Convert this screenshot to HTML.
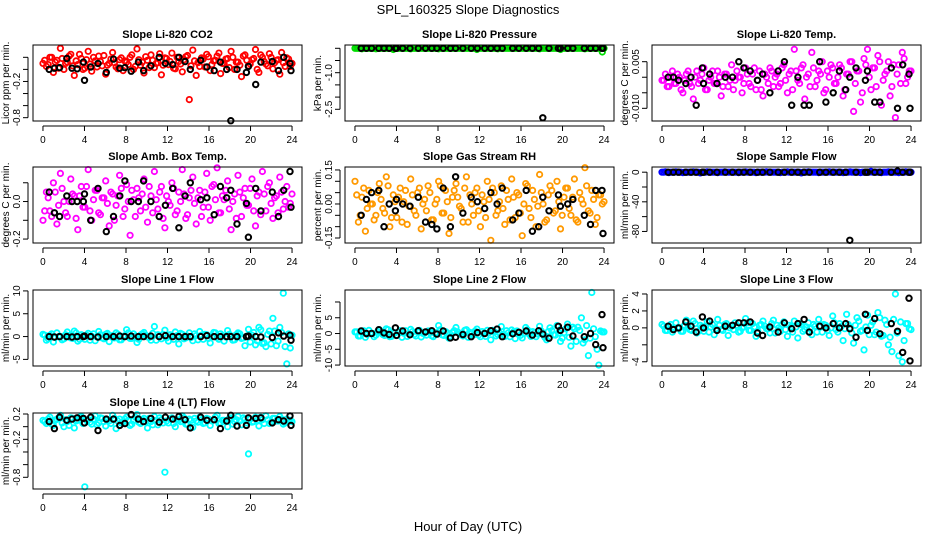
<!DOCTYPE html>
<html><head><meta charset="utf-8"><style>
html,body{margin:0;padding:0;background:#fff;}
svg{display:block;font-family:"Liberation Sans",sans-serif;}
</style></head><body>
<svg id="chart" width="936" height="540" viewBox="0 0 936 540">
<text x="468" y="14" text-anchor="middle" font-size="13">SPL_160325  Slope Diagnostics</text>
<text x="468" y="531" text-anchor="middle" font-size="13">Hour of Day (UTC)</text>
</svg>
<script>
const hoursK = [0.6,1.1,1.6,2.3,2.8,3.3,3.9,4.0,4.6,5.3,6.1,6.8,7.4,7.9,8.5,9.2,9.7,10.4,11.2,11.8,12.5,13.1,13.7,14.2,15.2,15.8,16.5,17.1,17.7,18.1,18.7,19.6,19.8,20.5,21.0,22.1,22.7,23.2,23.8,23.9];
const xTicks = [0,4,8,12,16,20,24];

const co2C = [0.1,0.05,0.2,-0.05,0.15,0.35,0.0,0.12,0.25,-0.1,0.08,0.18,0.02,0.3,-0.03,0.14,0.22,0.06,-0.08,0.1,0.28,0.04,0.16,-0.02,0.12,0.2,0.0,0.34,0.07,-0.06,0.15,0.24,0.03,0.11,-0.09,0.19,0.08,0.27,0.01,0.13,-0.04,0.21,-0.5,0.32,-0.1,0.05,0.17,0.25,-0.02,0.14,0.22,-0.07,0.1,0.18,0.3,0.0,0.12,-0.12,0.24,0.06,0.16,0.33,-0.05,0.2,0.09,0.26,0.01,0.15,-0.08,0.11,0.19,0.05];
const co2C2 = [0.15,0.08,0.2,0.12,0.02,0.18,0.1,0.22,0.06,0.14,0.25,0.0,0.16,0.09,0.2,0.04,0.13,0.23,0.07,0.17,0.11,0.01,0.19,0.14,0.08,0.24,0.05,0.16,0.12,0.21,0.03,0.15,0.1,0.26,0.07,0.18,0.13,0.02,0.2,0.09,0.16,0.23,0.06,0.14,0.11,0.19,0.04,0.21,0.08,0.15,0.27,0.1,0.17,0.03,0.2,0.12,0.07,0.22,0.15,0.09,0.18,0.0,0.24,0.13,0.06,0.2,0.11,0.16,0.28,0.05,0.17,0.1];
const co2K = [0.0,0.02,0.03,0.18,0.02,0.01,0.12,-0.18,0.04,0.1,-0.05,0.17,0.02,0.03,-0.03,0.12,-0.02,0.06,0.2,0.1,0.08,0.2,0.13,0.0,0.15,0.04,-0.02,0.12,0.0,-0.85,0.0,-0.05,0.05,-0.25,0.12,0.13,-0.02,0.2,0.1,-0.02];
const presC = [0,0,-0.02,0,0,0,-0.02,0,0,0,0,-0.05,0,0,0,0,-0.02,0,0,0,0,0,0,0,-0.02,0,0,0,0,0,0,0,0,0,0,-0.05,0,0,0,0,0,-0.02,0,0,0,0,0,0,0,0,0,0,0,-0.02,0,0,0,0,0,-0.05,0,0,0,0,0,0,-0.02,0,0,0,0,-0.15];
const presC2 = [0,0,0,0,0,0,0,0,0,0,0,0,0,0,0,0,0,0,0,0,0,0,0,0,0,0,0,0,0,0,0,0,0,0,0,0,0,0,0,0,0,0,0,0,0,0,0,0,0,0,0,0,0,0,0,0,0,0,0,0,0,0,0,0,0,0,0,0,0,0,0,0];
const presK = [0,0,0,0,0,0,0,0,0,0,0,0,0,0,0,0,0,0,0,0,0,0,0,0,0,0,0,0,0,-2.85,0,0,0,0,0,0,0,0,0,0];
const tempC = [-0.001,0.001,-0.003,0.002,-0.002,0.000,-0.005,0.001,-0.002,-0.007,0.002,-0.001,0.003,-0.004,0.000,-0.002,0.002,-0.006,0.001,-0.003,0.004,-0.001,0.000,-0.005,0.003,-0.002,0.001,-0.004,0.002,-0.006,0.000,0.003,-0.003,0.001,-0.002,0.004,-0.005,0.002,0.009,-0.001,0.003,-0.007,0.001,0.008,-0.003,0.002,0.005,-0.004,0.000,0.003,-0.002,0.004,-0.006,0.001,0.005,-0.011,0.002,-0.008,0.006,0.009,-0.004,0.003,0.007,-0.009,0.001,0.005,-0.003,-0.013,0.004,0.008,-0.002,0.002];
const tempC2 = [-0.001,-0.003,0.000,-0.002,0.001,-0.004,-0.001,0.002,-0.003,0.000,-0.002,0.001,-0.004,-0.001,0.002,-0.002,0.000,-0.003,0.001,-0.001,-0.004,0.002,0.000,-0.002,0.001,-0.003,0.003,-0.001,-0.004,0.001,-0.002,0.002,0.000,-0.003,0.003,-0.001,0.001,-0.004,0.002,-0.002,0.004,0.000,-0.003,0.003,-0.001,0.001,-0.005,0.002,0.004,-0.002,0.000,0.003,-0.004,0.001,0.005,-0.002,0.002,-0.005,0.004,0.000,0.003,-0.003,0.005,-0.001,0.002,-0.006,0.004,0.001,-0.002,0.006,0.000,0.002];
const tempK = [0.000,0.000,-0.001,-0.002,0.000,-0.009,0.003,-0.002,0.001,-0.002,0.000,0.000,0.005,0.003,0.002,-0.001,0.001,-0.005,0.002,0.005,-0.009,0.000,-0.009,-0.009,0.005,-0.008,-0.005,0.002,-0.004,0.000,0.003,-0.001,0.002,-0.008,-0.008,0.003,-0.010,0.004,0.001,-0.010];
const ambC = [-0.1,0.05,-0.05,0.1,-0.12,0.15,0.0,-0.08,0.12,0.03,-0.15,0.08,-0.03,0.17,-0.1,0.06,-0.06,0.02,0.11,-0.13,0.04,-0.02,0.14,-0.08,0.09,-0.18,0.01,0.07,-0.05,0.12,-0.11,0.03,0.16,-0.04,0.08,-0.14,0.0,0.1,-0.07,0.05,0.17,-0.09,0.02,0.13,-0.12,0.06,-0.03,0.15,-0.1,0.09,0.18,-0.06,0.01,0.11,-0.15,0.04,0.14,-0.08,0.07,-0.02,0.12,-0.13,0.05,0.16,-0.05,0.1,-0.09,0.03,0.13,-0.04,0.08,-0.01];
const ambC2 = [-0.05,0.02,-0.08,0.05,-0.02,0.07,-0.06,0.0,0.04,-0.09,0.03,-0.03,0.08,-0.05,0.01,0.06,-0.07,0.02,-0.01,0.05,-0.1,0.03,0.07,-0.04,0.0,0.06,-0.08,0.02,0.04,-0.03,0.08,-0.06,0.01,0.05,-0.09,0.03,-0.02,0.07,-0.05,0.0,0.04,-0.07,0.06,-0.01,0.02,-0.08,0.05,-0.03,0.08,0.01,-0.06,0.03,0.06,-0.04,0.0,-0.09,0.05,0.02,-0.02,0.07,-0.05,0.03,-0.07,0.04,0.08,-0.01,0.02,-0.06,0.05,0.0,-0.03,0.04];
const ambK = [0.05,-0.06,-0.08,0.03,0.0,0.0,0.0,0.04,-0.1,0.07,-0.16,-0.08,0.03,0.11,0.0,0.0,0.11,0.0,-0.08,-0.02,0.07,-0.14,0.03,0.1,0.01,0.02,-0.07,0.08,0.02,0.06,-0.12,-0.01,-0.19,0.07,-0.05,0.05,-0.08,0.06,0.16,-0.03];
const rhC = [0.1,-0.08,0.03,-0.12,0.06,0.0,-0.05,0.09,-0.02,0.12,-0.1,0.04,-0.06,0.07,0.01,-0.09,0.11,-0.03,0.05,-0.11,0.02,0.08,-0.07,0.0,0.1,-0.04,0.06,-0.13,0.03,0.09,-0.01,-0.08,0.12,0.04,-0.05,0.07,-0.1,0.01,0.1,-0.16,0.05,-0.03,0.08,-0.09,0.02,0.11,-0.06,0.04,-0.14,0.09,-0.02,0.06,-0.1,0.13,0.0,-0.07,0.08,-0.04,0.1,-0.11,0.03,0.07,-0.05,0.11,-0.08,0.02,0.16,-0.03,0.06,-0.09,0.04,0.0];
const rhC2 = [0.04,-0.05,0.07,-0.02,0.0,-0.07,0.05,0.02,-0.04,0.08,-0.06,0.01,0.03,-0.08,0.06,-0.01,0.04,-0.05,0.07,0.0,-0.03,0.05,-0.07,0.02,0.08,-0.04,0.01,-0.06,0.06,0.03,-0.02,0.07,-0.08,0.0,0.05,-0.03,0.04,-0.06,0.02,0.07,-0.05,0.01,-0.02,0.06,-0.07,0.03,0.05,-0.04,0.0,0.08,-0.06,0.02,-0.01,0.05,-0.08,0.04,0.06,-0.03,0.01,-0.05,0.07,-0.02,0.03,-0.07,0.05,0.0,0.08,-0.04,0.02,-0.06,0.04,0.01];
const rhK = [-0.05,0.02,0.05,0.06,-0.1,0.0,-0.03,0.02,0.0,-0.01,0.03,-0.08,-0.09,-0.11,0.07,-0.1,0.12,-0.04,0.03,0.01,-0.02,0.05,0.0,0.07,-0.07,-0.04,0.06,-0.12,-0.1,0.03,-0.03,0.04,-0.01,0.0,0.02,-0.05,-0.09,0.06,0.06,-0.13];
const sampC = [0,0.5,-0.5,0,0.5,0,-0.5,0,0,0.5,0,-1,0,0.5,0,0,-0.5,0,0.5,0,0,0,-0.5,0,0.5,0,0,-0.5,0,0,0.5,0,0,0,-0.5,0,0.5,0,0,0,-1,0,0.5,0,0,-0.5,0,0,0.5,0,0,0,-0.5,0,0.5,0,0,-0.5,0,0,1,0,0,-0.5,0,0.5,0,0,-0.5,0,0.5,0];
const sampC2 = [0,0,0,0,0,0,0,0,0,0,0,0,0,0,0,0,0,0,0,0,0,0,0,0,0,0,0,0,0,0,0,0,0,0,0,0,0,0,0,0,0,0,0,0,0,0,0,0,0,0,0,0,0,0,0,0,0,0,0,0,0,0,0,0,0,0,0,0,0,0,0,0];
const sampK = [0,0,0,0,0,0,0,0,0,0,0,0,0,0,0,0,0,0,0,0,0,0,0,0,0,0,0,0,0,-92,0,0,0,0,0,0,1.5,0,0,0];
const l1C = [0.5,-0.8,0.3,-1.2,0.8,0.0,-0.5,1.0,-0.3,1.2,-1.0,0.4,-0.6,0.7,0.1,-0.9,1.1,-0.3,0.5,-1.1,0.2,0.8,-0.7,0.0,1.5,-0.4,0.6,-1.3,0.3,0.9,-0.1,-0.8,2.2,0.4,-0.5,1.4,-1.0,0.1,1.0,-1.6,0.5,-0.3,0.8,-0.9,0.2,1.1,-0.6,0.4,-1.4,0.9,-0.2,0.6,-1.0,1.3,0.0,-0.7,0.8,-0.4,-2.0,1.6,0.3,-1.8,2.0,-1.5,-2.2,1.2,4.0,-2.0,2.0,9.5,-6.0,-2.5];
const l1C2 = [0.3,-0.5,0.6,-0.2,0.0,-0.7,0.4,0.2,-0.4,0.8,-0.6,0.1,0.3,-0.8,0.6,-0.1,0.4,-0.5,0.7,0.0,-0.3,0.5,-0.7,0.2,0.8,-0.4,0.1,-0.6,0.6,0.3,-0.2,0.7,-0.8,0.0,0.5,-0.3,0.4,-0.6,0.2,0.7,-0.5,0.1,-0.2,0.6,-0.7,0.3,0.5,-0.4,0.0,0.8,-0.6,0.2,-0.1,0.5,-0.8,0.4,0.6,-0.3,0.1,-1.2,0.9,-0.9,1.5,-1.4,0.5,-1.6,1.2,-1.0,0.9,-2.2,0.6,0.3];
const l1K = [0,-0.1,0,0,-0.1,0,0,0.1,0,-0.1,0,0,0.1,0,0.1,0,0,0.1,0,0.2,0,0,0,0,0,0.2,0,0,0,0,0,0,0.1,0,-0.1,-0.2,0.8,0.1,0.3,-0.8];
const l2C = [0.5,-0.8,0.3,-1.2,1.0,0.0,-0.5,1.2,-0.3,1.5,-1.0,0.4,-0.6,0.9,0.1,-0.9,1.3,-0.3,0.5,-1.1,0.2,0.8,-0.7,0.0,2.5,-0.4,0.6,-1.5,0.3,1.9,-0.1,-0.8,1.2,0.4,-0.5,1.4,-1.0,0.1,1.0,-2.0,0.5,-0.3,2.2,-0.9,0.2,1.1,-1.6,0.4,-1.4,1.9,-0.2,0.6,-1.0,2.3,0.0,-2.0,1.8,-0.4,2.5,-2.5,0.3,3.0,-4.0,1.5,2.0,5.0,-2.0,-7.0,13.0,-1.0,-10.0,0.5];
const l2C2 = [0.5,-0.8,0.9,-0.3,0.0,-1.0,0.6,0.3,-0.6,1.2,-0.9,0.2,0.5,-1.2,0.9,-0.2,0.6,-0.8,1.0,0.0,-0.5,0.8,-1.0,0.3,1.2,-0.6,0.2,-0.9,0.9,0.5,-0.3,1.0,-1.2,0.0,0.8,-0.5,0.6,-0.9,0.3,1.0,-0.8,0.2,-0.3,0.9,-1.0,0.5,0.8,-0.6,0.0,1.2,-0.9,0.3,-0.2,0.8,-1.2,0.6,0.9,-0.5,0.2,-1.5,1.5,-1.2,2.0,-2.5,1.0,-3.0,2.5,-1.5,1.5,-5.0,0.8,0.5];
const l2K = [0.8,0.0,0.0,1.2,0.2,-0.3,1.8,-0.6,0.8,-0.4,0.9,0.5,0.9,-0.2,0.8,-1.4,-1.2,-0.3,-1.0,0.3,0.0,0.9,1.4,-1.0,-0.1,0.4,0.8,-0.5,0.9,-0.2,-1.5,2.3,1.0,2.0,-0.8,-1.0,0.0,-3.5,6.0,-4.5];
const l3C = [0.4,-0.3,0.2,-0.5,0.6,0.0,-0.4,0.9,-0.2,0.8,-0.6,0.3,-0.4,0.7,0.1,-0.8,1.0,-0.2,0.4,-0.9,0.2,0.6,-0.5,0.0,1.1,-0.3,0.5,-1.0,0.3,0.8,-0.1,-0.6,0.9,0.3,-0.4,0.7,-1.0,0.1,0.8,-1.2,0.4,-0.2,0.6,-0.8,0.2,1.0,-0.5,0.3,-0.9,1.4,-0.2,0.5,-1.5,1.6,0.0,-1.8,1.2,-0.4,-2.6,1.5,0.3,-0.8,1.8,-1.0,0.9,-2.0,-2.8,4.0,-3.3,-4.0,0.5,-0.1];
const l3C2 = [0.2,-0.3,0.4,-0.1,0.0,-0.4,0.3,0.1,-0.3,0.5,-0.4,0.1,0.2,-0.5,0.4,-0.1,0.3,-0.3,0.5,0.0,-0.2,0.3,-0.4,0.1,0.6,-0.3,0.1,-0.4,0.4,0.2,-0.1,0.5,-0.6,0.0,0.4,-0.2,0.3,-0.5,0.1,0.5,-0.4,0.1,-0.1,0.4,-0.5,0.2,0.4,-0.3,0.0,0.6,-0.5,0.2,-0.1,0.4,-0.6,0.3,0.8,-0.3,0.1,-0.8,0.7,-0.5,1.2,-0.9,0.4,-1.1,1.0,-0.6,0.7,-1.5,0.5,-0.2];
const l3K = [0.2,-0.2,0.0,0.7,0.2,-0.5,1.3,0.0,0.8,-0.3,0.2,0.3,0.6,0.6,0.7,-0.6,-0.9,0.1,-0.5,0.6,-0.1,0.5,1.0,-0.5,0.2,0.0,0.5,0.0,0.5,-0.1,-1.1,1.6,-0.3,1.1,-0.7,0.5,-0.4,-2.9,3.5,-3.9];
const l4C = [0.1,0.05,0.15,0.02,0.12,0.18,0.0,0.08,0.14,-0.02,0.1,0.16,-0.95,0.11,0.04,0.17,0.06,0.13,0.01,0.09,0.18,-0.03,0.12,0.07,0.15,0.02,0.1,0.19,0.05,0.13,-0.02,0.08,0.16,0.03,0.11,-0.72,0.06,0.14,0.0,0.1,0.17,0.04,0.12,-0.01,0.09,0.15,0.05,0.13,0.02,0.11,0.18,0.06,0.1,0.0,0.14,0.08,0.16,0.03,0.12,-0.43,0.07,0.15,0.01,0.11,0.17,0.05,0.13,0.09,0.16,0.04,0.12,0.1];
const l4C2 = [0.08,0.12,0.04,0.1,0.14,0.06,0.11,0.02,0.13,0.09,0.15,0.05,0.1,0.07,0.12,0.03,0.14,0.08,0.11,0.05,0.13,0.09,0.06,0.12,0.1,0.04,0.15,0.07,0.11,0.08,0.13,0.03,0.1,0.14,0.06,0.09,0.12,0.05,0.11,0.08,0.14,0.04,0.1,0.13,0.07,0.11,0.06,0.12,0.09,0.15,0.05,0.1,0.08,0.13,0.04,0.11,0.09,0.14,0.06,0.12,0.08,0.1,0.15,0.05,0.11,0.07,0.13,0.09,0.12,0.06,0.1,0.08];
const l4K = [0.08,-0.03,0.15,0.1,0.12,0.14,0.13,0.06,0.15,-0.06,0.12,0.12,0.02,0.05,0.19,0.12,0.08,0.13,0.07,0.15,0.12,0.16,0.11,-0.02,0.15,0.1,0.11,-0.03,0.09,0.18,0.01,0.02,0.14,0.13,0.14,0.06,0.11,0.09,0.17,0.02];

const NS = 'http://www.w3.org/2000/svg';
const svg = document.getElementById('chart');
function mk(tag, attrs, parent) {
  const e = document.createElementNS(NS, tag);
  for (const k in attrs) e.setAttribute(k, attrs[k]);
  (parent || svg).appendChild(e);
  return e;
}
const colL = [33, 345, 652];
const rowT = [45, 167, 290, 413];
const W = 269, H = 76;
const panels = [
  {id:'co2', title:'Slope Li-820 CO2', ylab:'Licor ppm per min.', c:0, r:0, d:[-0.855,0.404], ticks:[0.2,0,-0.2,-0.4,-0.6,-0.8], labs:['','','-0.2','','','-0.8'], col:'#ff0000', cv:co2C, cv2:co2C2, kv:co2K},
  {id:'pressure', title:'Slope Li-820 Pressure', ylab:'kPa per min.', c:1, r:0, d:[-2.98,0.135], ticks:[0,-0.5,-1,-1.5,-2,-2.5], labs:['','','-1.0','','','-2.5'], col:'#00dd00', cv:presC, cv2:presC2, kv:presK},
  {id:'temp', title:'Slope Li-820 Temp.', ylab:'degrees C per min.', c:2, r:0, d:[-0.01408,0.01037], ticks:[0.005,0,-0.005,-0.01], labs:['0.005','','','-0.010'], col:'#ff00ff', cv:tempC, cv2:tempC2, kv:tempK},
  {id:'amb-box-temp', title:'Slope Amb. Box Temp.', ylab:'degrees C per min.', c:0, r:1, d:[-0.221,0.184], ticks:[0.1,0,-0.1,-0.2], labs:['','0.0','','-0.2'], col:'#ff00ff', cv:ambC, cv2:ambC2, kv:ambK},
  {id:'gas-stream-rh', title:'Slope Gas Stream RH', ylab:'percent per min.', c:1, r:1, d:[-0.172,0.163], ticks:[0.15,0.1,0.05,0,-0.05,-0.1,-0.15], labs:['0.15','','','0.00','','','-0.15'], col:'#ff9900', cv:rhC, cv2:rhC2, kv:rhK},
  {id:'sample-flow', title:'Slope Sample Flow', ylab:'ml/min per min.', c:2, r:1, d:[-95.6,7], ticks:[0,-20,-40,-60,-80], labs:['0','','-40','','-80'], col:'#0000ff', cv:sampC, cv2:sampC2, kv:sampK},
  {id:'line1-flow', title:'Slope Line 1 Flow', ylab:'ml/min per min.', c:0, r:2, d:[-6.45,10.2], ticks:[10,5,0,-5], labs:['10','5','0','-5'], col:'#00ffff', cv:l1C, cv2:l1C2, kv:l1K},
  {id:'line2-flow', title:'Slope Line 2 Flow', ylab:'ml/min per min.', c:1, r:2, d:[-10.3,13.8], ticks:[10,5,0,-5,-10], labs:['','5','0','-5','-10'], col:'#00ffff', cv:l2C, cv2:l2C2, kv:l2K},
  {id:'line3-flow', title:'Slope Line 3 Flow', ylab:'ml/min per min.', c:2, r:2, d:[-4.5,4.47], ticks:[4,2,0,-2,-4], labs:['4','2','0','','-4'], col:'#00ffff', cv:l3C, cv2:l3C2, kv:l3K},
  {id:'line4-flow', title:'Slope Line 4 (LT) Flow', ylab:'ml/min per min.', c:0, r:3, d:[-0.985,0.216], ticks:[0.2,0,-0.2,-0.4,-0.6,-0.8], labs:['0.2','','-0.2','','','-0.8'], col:'#00ffff', cv:l4C, cv2:l4C2, kv:l4K}
];

panels.forEach(p => {
  const L = colL[p.c], T = rowT[p.r];
  const xs = h => L + (h + 0.96) / 25.92 * W;
  const ys = v => T + H - (v - p.d[0]) / (p.d[1] - p.d[0]) * H;
  const g = mk('g', {});
  
  
  const t = mk('text', {x: L + W/2, y: T - 7, 'text-anchor':'middle', 'font-size':11, 'font-weight':'bold'}, g);
  t.textContent = p.title;
  
  
  const pts = mk('g', {fill:'none'}, g);
  
  
  [p.cv, p.cv2].forEach((arr, k) => {
    const n = arr.length;
    arr.forEach((v, i) => {
      const h = (i + k * 0.5) * 24 / (n - 0.5);
      const c = mk('circle', {cx: xs(h).toFixed(1), cy: ys(v).toFixed(1), r: 2.7, stroke: p.col, 'stroke-width': 1.8}, pts);
      
      
    });
  });
  p.kv.forEach((v, i) => {
    const c = mk('circle', {cx: xs(hoursK[i]).toFixed(1), cy: ys(v).toFixed(1), r: 2.7, stroke: '#000', 'stroke-width': 2}, pts);
    
    
  });
  const b = mk('rect', {x: L, y: T, width: W, height: H, fill: 'none', stroke: '#000', 'stroke-width': 1}, g);
  
  
  const xa = mk('g', {}, g);
  
  
  mk('line', {x1: xs(0), x2: xs(24), y1: T + H + 5, y2: T + H + 5, stroke: '#000'}, xa);
  xTicks.forEach(v => {
    mk('line', {x1: xs(v), x2: xs(v), y1: T + H + 5, y2: T + H + 10, stroke: '#000'}, xa);
    const tl = mk('text', {x: xs(v), y: T + H + 22, 'text-anchor':'middle', 'font-size':10}, xa);
    tl.textContent = v;
    
    
  });
  const ya = mk('g', {}, g);
  
  
  const ax = L - 5;
  mk('line', {x1: ax, x2: ax, y1: ys(p.ticks[0]), y2: ys(p.ticks[p.ticks.length-1]), stroke: '#000'}, ya);
  p.ticks.forEach((v, i) => {
    mk('line', {x1: ax - 5, x2: ax, y1: ys(v), y2: ys(v), stroke: '#000'}, ya);
    if (p.labs[i]) {
      const yl = mk('text', {x: 0, y: 0, 'text-anchor':'middle', 'font-size':10, transform: `translate(${ax - 8},${ys(v)}) rotate(-90)`}, ya);
      yl.textContent = p.labs[i];
      
      
    }
  });
  const yt = mk('text', {x: 0, y: 0, 'text-anchor':'middle', 'font-size':10, transform: `translate(${L - 24},${T + H/2}) rotate(-90)`}, g);
  yt.textContent = p.ylab;
  
  
});
</script>
</body></html>
